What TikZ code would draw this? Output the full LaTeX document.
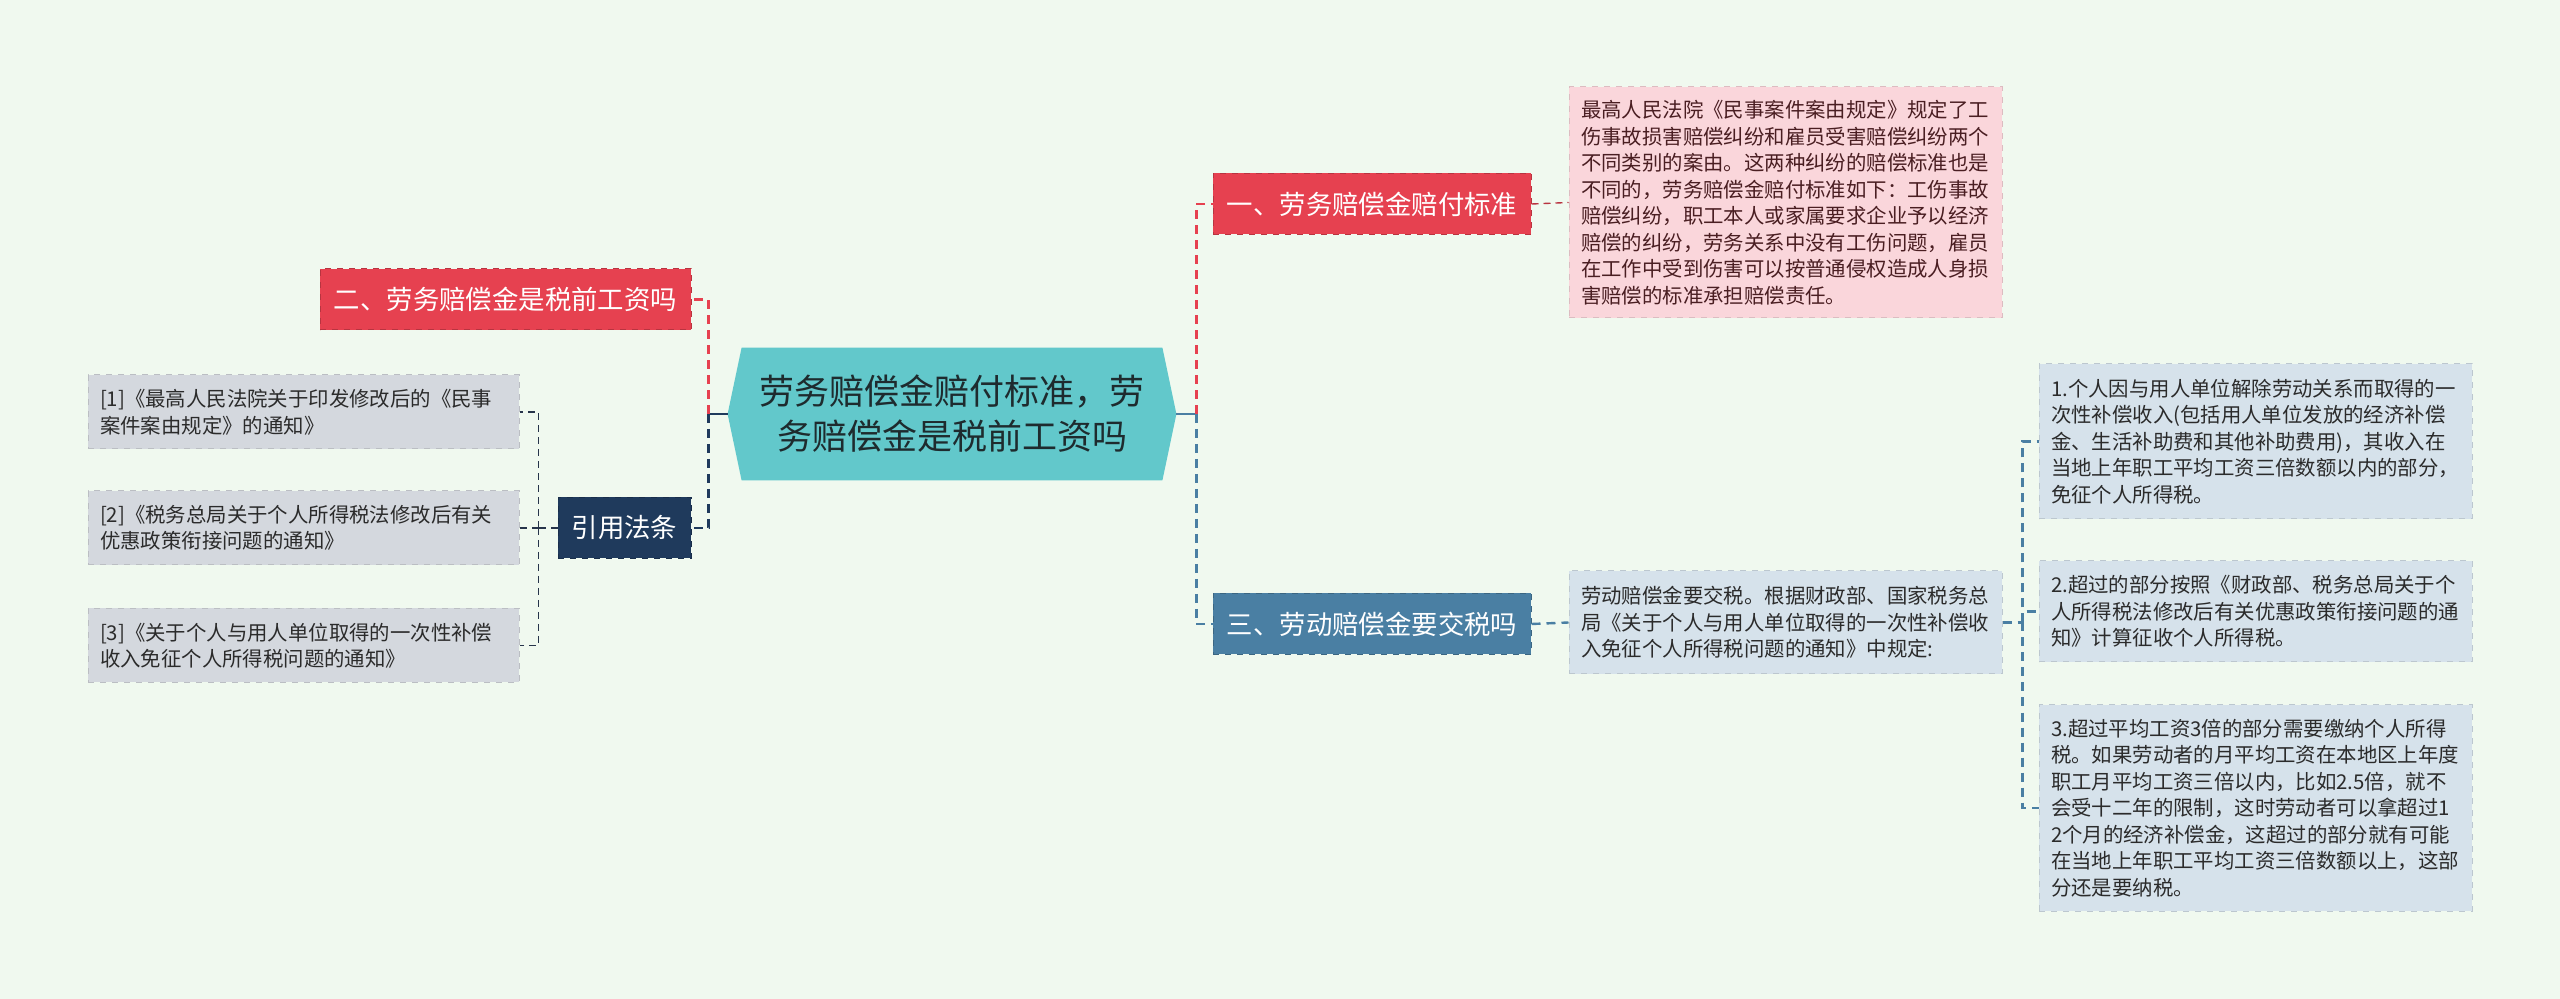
\documentclass[tikz,border=0pt]{standalone}
\usepackage{fontspec}
\setmainfont{Noto Sans CJK SC}
\usepackage{xcolor}
\usetikzlibrary{positioning, backgrounds}

\definecolor{bgmint}{HTML}{F0F9EF}
\definecolor{hubfill}{HTML}{62C8CB}
\definecolor{hubtext}{HTML}{1E2B2E}
\definecolor{redfill}{HTML}{E64150}
\definecolor{pinkfill}{HTML}{FAD6DB}
\definecolor{pinktext}{HTML}{4A1E22}
\definecolor{navyfill}{HTML}{1F3A5C}
\definecolor{steelfill}{HTML}{4A7FA3}
\definecolor{grayfill}{HTML}{D4D8DE}
\definecolor{bluefill}{HTML}{D6E2EB}
\definecolor{bodytext}{HTML}{2B2B2B}
\definecolor{linkgray}{HTML}{26344A}

\begin{document}
\begin{tikzpicture}[
    x=0.5pt, y=-0.5pt,
    font=\fontsize{10.2pt}{13.25pt}\selectfont,
    hub/.style={
        minimum width=224pt, minimum height=66pt, align=center, inner sep=0pt,
        text=hubtext, font=\fontsize{17.5pt}{22.5pt}\selectfont,
    },
    branch/.style={
        fill=#1, draw=#1!80!black, dashed, line width=0.5pt, text=white,
        minimum height=30.5pt, inner sep=0pt, font=\fontsize{13.2pt}{16pt}\selectfont,
    },
    note/.style={
        fill=#1, draw=#1!88!black, dashed, line width=0.5pt, text=bodytext,
        text width=204.5pt, align=left, inner xsep=6pt, inner ysep=0pt,
    },
    lawref/.style={
        fill=grayfill, draw=grayfill!88!black, dashed, line width=0.5pt, text=bodytext,
        text width=203.5pt, align=left, inner xsep=6pt, inner ysep=0pt, minimum height=37pt,
    },
    stub/.style={draw=#1, line width=1.3pt},
    link/.style={draw=#1, line width=1.2pt, dash pattern=on 4.5pt off 3pt},
    thinlink/.style={draw=#1, line width=0.7pt, dash pattern=on 3.5pt off 2.5pt},
]

\useasboundingbox (0,0) rectangle (2560,999);

% centre
\node[hub] (hub) at (952,414) {劳务赔偿金赔付标准，劳\\务赔偿金是税前工资吗};

% right side
\node[branch=redfill, minimum width=159pt] (pay) at (1372,204) {一、劳务赔偿金赔付标准};
\node[note=pinkfill, text=pinktext, minimum height=115.5pt] (paynote) at (1785.5,202.5)
    {最高人民法院《民事案件案由规定》规定了工\\伤事故损害赔偿纠纷和雇员受害赔偿纠纷两个\\不同类别的案由。这两种纠纷的赔偿标准也是\\不同的，劳务赔偿金赔付标准如下：工伤事故\\赔偿纠纷，职工本人或家属要求企业予以经济\\赔偿的纠纷，劳务关系中没有工伤问题，雇员\\在工作中受到伤害可以按普通侵权造成人身损\\害赔偿的标准承担赔偿责任。};

\node[branch=steelfill, minimum width=159pt] (tax) at (1372,624) {三、劳动赔偿金要交税吗};
\node[note=bluefill, minimum height=51.5pt] (taxnote) at (1785.5,622.5)
    {劳动赔偿金要交税。根据财政部、国家税务总\\局《关于个人与用人单位取得的一次性补偿收\\入免征个人所得税问题的通知》中规定:};

\node[note=bluefill, minimum height=77.5pt] (rule1) at (2255.5,441.5)
    {1.个人因与用人单位解除劳动关系而取得的一\\次性补偿收入(包括用人单位发放的经济补偿\\金、生活补助费和其他补助费用)，其收入在\\当地上年职工平均工资三倍数额以内的部分，\\免征个人所得税。};
\node[note=bluefill, minimum height=50.5pt] (rule2) at (2255.5,611.5)
    {2.超过的部分按照《财政部、税务总局关于个\\人所得税法修改后有关优惠政策衔接问题的通\\知》计算征收个人所得税。};
\node[note=bluefill, minimum height=103pt] (rule3) at (2255.5,808)
    {3.超过平均工资3倍的部分需要缴纳个人所得\\税。如果劳动者的月平均工资在本地区上年度\\职工月平均工资三倍以内，比如2.5倍，就不\\会受十二年的限制，这时劳动者可以拿超过1\\2个月的经济补偿金，这超过的部分就有可能\\在当地上年职工平均工资三倍数额以上，这部\\分还是要纳税。};

% left side
\node[branch=redfill, minimum width=185.5pt] (pretax) at (505.5,299.5) {二、劳务赔偿金是税前工资吗};
\node[branch=navyfill, minimum width=66.5pt] (law) at (624.5,528) {引用法条};

\node[lawref] (law1) at (303.5,412) {[1]《最高人民法院关于印发修改后的《民事\\案件案由规定》的通知》};
\node[lawref] (law2) at (303.5,528) {[2]《税务总局关于个人所得税法修改后有关\\优惠政策衔接问题的通知》};
\node[lawref] (law3) at (303.5,645.5) {[3]《关于个人与用人单位取得的一次性补偿\\收入免征个人所得税问题的通知》};

% junctions
\coordinate (rt) at ([xshift=10pt]hub.east);
\coordinate (lt) at ([xshift=-9.5pt]hub.west);
\coordinate (lk) at ([xshift=-9.5pt]law.west);
\coordinate (mk) at ([xshift=10pt]taxnote.east);

\begin{pgfonlayer}{background}
\fill[bgmint] (0,0) rectangle (2560,999);
\fill[hubfill] (hub.west) -- ([xshift=7pt]hub.north west) -- ([xshift=-7pt]hub.north east)
    -- (hub.east) -- ([xshift=-7pt]hub.south east) -- ([xshift=7pt]hub.south west) -- cycle;
\end{pgfonlayer}

\draw[stub=steelfill] (hub.east) -- (rt);
\draw[link=redfill] (rt) |- (pay.west);
\draw[link=steelfill] (rt) |- (tax.west);
\draw[thinlink=redfill!80!black] (pay.east) -- (paynote.west);
\draw[link=steelfill] (tax.east) -- (taxnote.west);
\draw[link=steelfill] (taxnote.east) -- (mk);
\draw[link=steelfill] (mk) |- (rule1.west);
\draw[link=steelfill] (mk) |- (rule2.west);
\draw[link=steelfill] (mk) |- (rule3.west);

\draw[stub=navyfill] (hub.west) -- (lt);
\draw[link=redfill] (lt) |- (pretax.east);
\draw[link=navyfill] (lt) |- (law.east);
\draw[thinlink=linkgray] (law.west) -- (lk);
\draw[thinlink=linkgray] (lk) |- (law1.east);
\draw[thinlink=linkgray] (lk) |- (law2.east);
\draw[thinlink=linkgray] (lk) |- (law3.east);

\end{tikzpicture}
\end{document}
